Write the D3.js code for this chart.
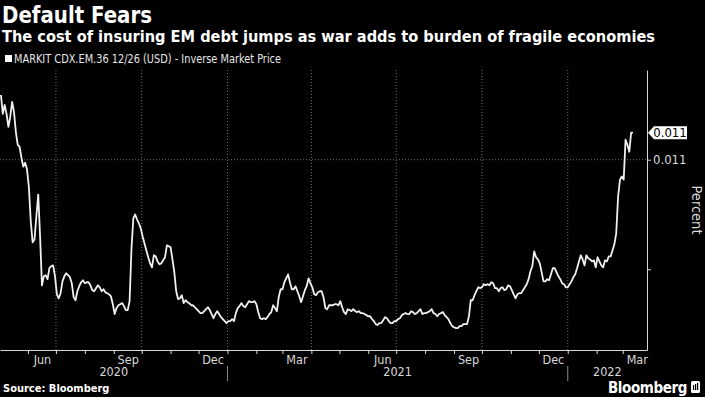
<!DOCTYPE html>
<html>
<head>
<meta charset="utf-8">
<script src="https://cdn.jsdelivr.net/npm/d3@7/dist/d3.min.js"></script>
<style>
  body { margin: 0; background: #000; }
  svg { display: block; }
  text { font-family: "DejaVu Sans Condensed", "Liberation Sans Narrow", "DejaVu Sans", sans-serif; }
</style>
</head>
<body>
<div id="chart"></div>
<script>
// series: MARKIT CDX.EM.36 inverse market price, one reading every 2 days from startDate
var startDate = "2020-05-03";
var stepDays = 2;
var values = [
  0.011295, 0.011209, 0.011250, 0.011209, 0.011150, 0.011195, 0.011264, 0.011218, 0.011127, 0.011068,
  0.011059, 0.011009, 0.010968, 0.010986, 0.010955, 0.010873, 0.010718, 0.010623, 0.010636, 0.010741,
  0.010841, 0.010650, 0.010427, 0.010468, 0.010473, 0.010455, 0.010505, 0.010514, 0.010518, 0.010468,
  0.010386, 0.010368, 0.010391, 0.010445, 0.010468, 0.010482, 0.010473, 0.010464, 0.010436, 0.010373,
  0.010359, 0.010400, 0.010423, 0.010441, 0.010450, 0.010436, 0.010441, 0.010441, 0.010427, 0.010405,
  0.010400, 0.010414, 0.010427, 0.010418, 0.010400, 0.010409, 0.010395, 0.010391, 0.010386, 0.010377,
  0.010341, 0.010296, 0.010323, 0.010336, 0.010341, 0.010346, 0.010332, 0.010314, 0.010314, 0.010355,
  0.010591, 0.010732, 0.010750, 0.010727, 0.010709, 0.010686, 0.010650, 0.010618, 0.010586, 0.010555,
  0.010527, 0.010509, 0.010564, 0.010559, 0.010536, 0.010523, 0.010527, 0.010541, 0.010555, 0.010609,
  0.010605, 0.010600, 0.010545, 0.010486, 0.010400, 0.010364, 0.010368, 0.010382, 0.010346, 0.010359,
  0.010350, 0.010346, 0.010336, 0.010336, 0.010327, 0.010318, 0.010309, 0.010300, 0.010300, 0.010309,
  0.010318, 0.010327, 0.010314, 0.010296, 0.010277, 0.010296, 0.010309, 0.010296, 0.010282, 0.010273,
  0.010264, 0.010255, 0.010264, 0.010264, 0.010273, 0.010264, 0.010300, 0.010323, 0.010332, 0.010346,
  0.010332, 0.010327, 0.010341, 0.010355, 0.010350, 0.010350, 0.010355, 0.010341, 0.010305, 0.010277,
  0.010273, 0.010277, 0.010273, 0.010282, 0.010296, 0.010305, 0.010336, 0.010323, 0.010309, 0.010373,
  0.010409, 0.010409, 0.010441, 0.010459, 0.010477, 0.010441, 0.010409, 0.010409, 0.010423, 0.010400,
  0.010377, 0.010350, 0.010377, 0.010405, 0.010423, 0.010459, 0.010436, 0.010418, 0.010386, 0.010382,
  0.010395, 0.010400, 0.010400, 0.010373, 0.010323, 0.010318, 0.010336, 0.010336, 0.010336, 0.010341,
  0.010341, 0.010336, 0.010355, 0.010327, 0.010305, 0.010296, 0.010318, 0.010314, 0.010309, 0.010318,
  0.010309, 0.010305, 0.010309, 0.010300, 0.010300, 0.010296, 0.010291, 0.010286, 0.010286, 0.010273,
  0.010264, 0.010250, 0.010246, 0.010255, 0.010255, 0.010268, 0.010282, 0.010277, 0.010264, 0.010255,
  0.010255, 0.010264, 0.010264, 0.010273, 0.010277, 0.010291, 0.010296, 0.010300, 0.010296, 0.010296,
  0.010309, 0.010305, 0.010296, 0.010300, 0.010309, 0.010318, 0.010296, 0.010300, 0.010300, 0.010305,
  0.010309, 0.010318, 0.010300, 0.010296, 0.010286, 0.010296, 0.010300, 0.010305, 0.010291, 0.010282,
  0.010273, 0.010255, 0.010241, 0.010236, 0.010232, 0.010232, 0.010241, 0.010241, 0.010250, 0.010250,
  0.010250, 0.010286, 0.010359, 0.010359, 0.010382, 0.010400, 0.010418, 0.010414, 0.010418, 0.010432,
  0.010427, 0.010432, 0.010427, 0.010441, 0.010436, 0.010414, 0.010414, 0.010400, 0.010414, 0.010418,
  0.010405, 0.010409, 0.010427, 0.010423, 0.010405, 0.010386, 0.010368, 0.010386, 0.010391, 0.010391,
  0.010405, 0.010418, 0.010432, 0.010455, 0.010491, 0.010514, 0.010582, 0.010555, 0.010545, 0.010527,
  0.010486, 0.010445, 0.010445, 0.010455, 0.010450, 0.010477, 0.010505, 0.010505, 0.010486, 0.010468,
  0.010455, 0.010436, 0.010432, 0.010418, 0.010418, 0.010432, 0.010445, 0.010464, 0.010477, 0.010505,
  0.010536, 0.010564, 0.010545, 0.010518, 0.010564, 0.010550, 0.010545, 0.010536, 0.010541, 0.010509,
  0.010555, 0.010536, 0.010518, 0.010509, 0.010541, 0.010536, 0.010559, 0.010559, 0.010586, 0.010614,
  0.010664, 0.010832, 0.010909, 0.010923, 0.010909, 0.011091, 0.011068, 0.011036, 0.011123, 0.011123
];
var yTicks = [0.0105, 0.011];
var yLabelled = [0.011];
var labelMonths = ["Jun", "Sep", "Dec", "Mar"];
var years = [2020, 2021, 2022];

var title = "Default Fears";
var subtitle = "The cost of insuring EM debt jumps as war adds to burden of fragile economies";
var legendText = "MARKIT CDX.EM.36 12/26 (USD) - Inverse Market Price";
var yTitle = "Percent";
var source = "Source: Bloomberg";

var width = 705, height = 397;
var plot = { left: 0, right: 647, top: 70, bottom: 350 };
var axisColor = "#d9d9d9";
var gridColor = "#6e6e6e";

var parse = d3.timeParse("%Y-%m-%d");
var start = parse(startDate);
var data = values.map(function (v, i) {
  return { date: d3.timeDay.offset(start, i * stepDays), value: v };
});

var x = d3.scaleTime()
  .domain([new Date(2020, 4, 2), new Date(2022, 2, 27)])
  .range([plot.left, plot.right]);
var y = d3.scaleLinear()
  .domain([0.010132, 0.011409])
  .range([plot.bottom, plot.top]);

var svg = d3.select("#chart").append("svg")
  .attr("width", width)
  .attr("height", height);
svg.append("rect").attr("width", width).attr("height", height).attr("fill", "#000");

// header
svg.append("text").attr("x", 2).attr("y", 23)
  .attr("font-size", 23).attr("font-weight", "bold").attr("fill", "#fff")
  .attr("textLength", 150).attr("lengthAdjust", "spacingAndGlyphs")
  .text(title);
svg.append("text").attr("x", 2).attr("y", 42)
  .attr("font-size", 16).attr("font-weight", "bold").attr("fill", "#fff")
  .attr("textLength", 653).attr("lengthAdjust", "spacingAndGlyphs")
  .text(subtitle);
svg.append("rect").attr("x", 5).attr("y", 55).attr("width", 7).attr("height", 7).attr("fill", "#fff");
svg.append("text").attr("x", 14).attr("y", 63)
  .attr("font-size", 11.5).attr("fill", "#e6e6e6")
  .attr("textLength", 267).attr("lengthAdjust", "spacingAndGlyphs")
  .text(legendText);

// grid
var monthStarts = d3.timeMonth.range(x.domain()[0], x.domain()[1]);
var quarterStarts = monthStarts.filter(function (d) { return d.getMonth() % 3 === 0; });
svg.append("g").selectAll("line")
  .data(quarterStarts)
  .enter().append("line")
  .attr("x1", function (d) { return x(d); })
  .attr("x2", function (d) { return x(d); })
  .attr("y1", plot.top)
  .attr("y2", plot.bottom)
  .attr("stroke", gridColor)
  .attr("stroke-dasharray", "1,2");
svg.append("g").selectAll("line")
  .data(yLabelled)
  .enter().append("line")
  .attr("x1", plot.left)
  .attr("x2", plot.right)
  .attr("y1", function (d) { return y(d); })
  .attr("y2", function (d) { return y(d); })
  .attr("stroke", gridColor)
  .attr("stroke-dasharray", "1,2");

// x axis: month ticks
var xTickAxis = svg.append("g")
  .attr("transform", "translate(0," + plot.bottom + ")")
  .call(d3.axisBottom(x).tickValues(monthStarts).tickSize(4).tickSizeOuter(0).tickFormat(""));
xTickAxis.select(".domain").attr("stroke", axisColor);
xTickAxis.selectAll(".tick line").attr("stroke", axisColor);

// month labels centred on the month
var midMonths = monthStarts.filter(function (d) {
  return labelMonths.indexOf(d3.timeFormat("%b")(d)) >= 0;
}).map(function (d) { return d3.timeDay.offset(d, 15); });
var xLabelAxis = svg.append("g")
  .attr("transform", "translate(0," + plot.bottom + ")")
  .call(d3.axisBottom(x).tickValues(midMonths).tickSize(0).tickPadding(5).tickFormat(d3.timeFormat("%b")));
xLabelAxis.select(".domain").remove();
xLabelAxis.selectAll("text")
  .attr("font-size", 12.5).attr("fill", axisColor)
  .style("font-family", "'DejaVu Sans Condensed', 'Liberation Sans Narrow', sans-serif");

// years
var yearGroup = svg.append("g");
years.forEach(function (yr, i) {
  var a = Math.max(x(new Date(yr, 0, 1)), plot.left);
  var b = Math.min(x(new Date(yr + 1, 0, 1)), plot.right);
  yearGroup.append("text")
    .attr("x", (a + b) / 2).attr("y", 376)
    .attr("text-anchor", "middle")
    .attr("font-size", 12.5).attr("fill", axisColor)
    .text(yr);
  if (i > 0) {
    yearGroup.append("line")
      .attr("x1", a).attr("x2", a)
      .attr("y1", 366).attr("y2", 381)
      .attr("stroke", "#8a8a8a");
  }
});

// y axis on the right
var yAxis = svg.append("g")
  .attr("transform", "translate(" + plot.right + ",0)")
  .call(d3.axisRight(y).tickValues(yTicks).tickSize(4).tickSizeOuter(0).tickPadding(2)
    .tickFormat(function (d) { return yLabelled.indexOf(d) >= 0 ? d3.format(".3f")(d) : ""; }));
yAxis.select(".domain").attr("stroke", axisColor);
yAxis.selectAll(".tick line").attr("stroke", axisColor);
yAxis.selectAll("text")
  .attr("font-size", 13).attr("fill", axisColor)
  .style("font-family", "'DejaVu Sans Condensed', 'Liberation Sans Narrow', sans-serif");

svg.append("text")
  .attr("transform", "translate(692,210) rotate(90)")
  .attr("text-anchor", "middle")
  .attr("font-size", 14.5).attr("fill", axisColor)
  .text(yTitle);

// line
var line = d3.line()
  .x(function (d) { return x(d.date); })
  .y(function (d) { return y(d.value); });
svg.append("path")
  .datum(data)
  .attr("d", line)
  .attr("fill", "none")
  .attr("stroke", "#f0f0f0")
  .attr("stroke-width", 1.8)
  .attr("stroke-linejoin", "round");

// last value tag
var last = data[data.length - 1];
var ly = y(last.value);
var tag = svg.append("g").attr("transform", "translate(" + (plot.right + 1) + "," + ly + ")");
tag.append("path")
  .attr("d", "M0,0 L6,-6.5 L39,-6.5 L39,6.5 L6,6.5 Z")
  .attr("fill", "#fff");
tag.append("text")
  .attr("x", 22).attr("y", 4.5)
  .attr("text-anchor", "middle")
  .attr("font-size", 13).attr("fill", "#000")
  .text(d3.format(".3f")(last.value));

// footer
svg.append("text").attr("x", 3).attr("y", 392)
  .attr("font-size", 11).attr("font-weight", "bold").attr("fill", "#fff")
  .text(source);
svg.append("text").attr("x", 687).attr("y", 393)
  .attr("text-anchor", "end")
  .attr("font-size", 15).attr("font-weight", "bold").attr("fill", "#fff")
  .attr("letter-spacing", -0.4)
  .text("Bloomberg");
var logo = svg.append("g").attr("transform", "translate(691,381)");
logo.append("rect").attr("width", 9).attr("height", 12).attr("rx", 1.5).attr("fill", "#fff");
[2, 4, 6].forEach(function (bx, i) {
  logo.append("rect").attr("x", bx).attr("y", 4 - i).attr("width", 1.2).attr("height", 5 + i).attr("fill", "#000");
});
</script>
</body>
</html>
